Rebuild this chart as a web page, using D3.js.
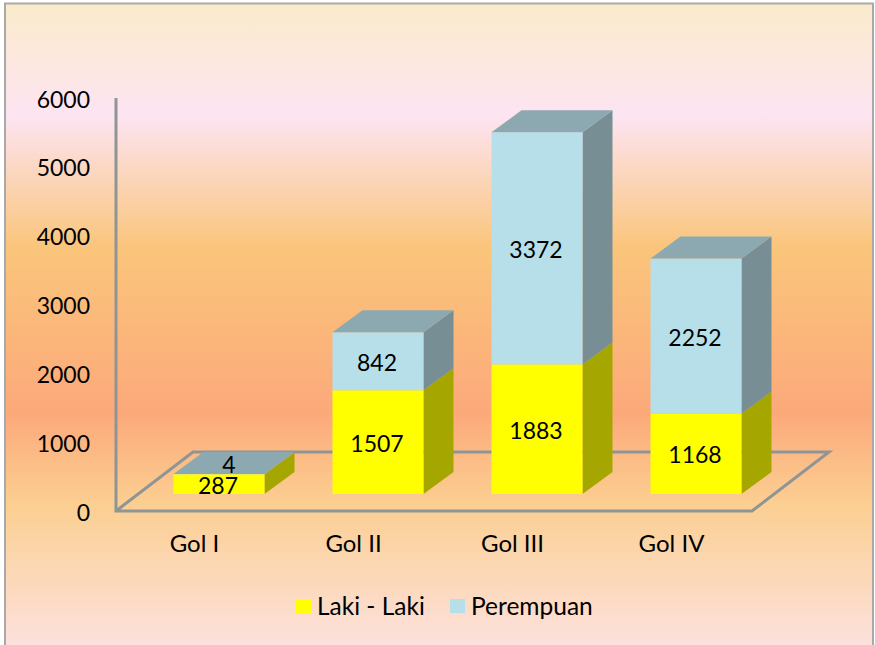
<!DOCTYPE html>
<html>
<head>
<meta charset="utf-8">
<script src="https://cdn.jsdelivr.net/npm/d3@7"></script>
<style>
  html, body { margin: 0; padding: 0; background: #fff; }
  svg { display: block; }
  text { font-family: Lato, "Open Sans", sans-serif; fill: #000; }
</style>
</head>
<body>
<svg id="chart" width="875" height="645"></svg>
<script>
const categories = ["Gol I", "Gol II", "Gol III", "Gol IV"]
const lakiLaki = [287, 1507, 1883, 1168]
const perempuan = [4, 842, 3372, 2252]
const yTicks = [0, 1000, 2000, 3000, 4000, 5000, 6000]
const seriesNames = ["Laki - Laki", "Perempuan"]

const w = 875
const h = 645
const svg = d3.select("#chart")

const x = d3.scaleBand().domain(categories).range([116, 752]).paddingInner(0.4277).paddingOuter(0.21385)
const y = d3.scaleLinear().domain([0, 6000]).range([511, 98])

// 3d offsets, floor and the bar box inside it
const floorDx = 77
const floorDy = -59
const barOffX = 23.5
const barOffY = -17
const barDx = 30
const barDy = -22

const colors = {
  laki: { front: "#ffff00", side: "#a6a600", top: "#c4c400" },
  perempuan: { front: "#b7dfe9", side: "#778e95", top: "#8ca9b1" },
}

// background
const defs = svg.append("defs")
const grad = defs.append("linearGradient").attr("id", "bg").attr("x1", 0).attr("x2", 0).attr("y1", 0).attr("y2", 1)
const stops = [
  [0, "#faebcb"],
  [0.17, "#fde4f2"],
  [0.37, "#fac57b"],
  [0.62, "#fca97a"],
  [0.76, "#fbcf92"],
  [1, "#fde3e6"],
]
grad
  .selectAll("stop")
  .data(stops)
  .join("stop")
  .attr("offset", (d) => d[0])
  .attr("stop-color", (d) => d[1])

const blur = defs.append("filter").attr("id", "soft")
blur.append("feGaussianBlur").attr("stdDeviation", 0.5)

svg
  .append("rect")
  .attr("x", 5)
  .attr("y", 3.5)
  .attr("width", 868)
  .attr("height", 660)
  .attr("fill", "url(#bg)")
  .attr("stroke", "#a9a9a9")
  .attr("stroke-width", 2)

// floor and wall lines
const lines = svg.append("g").attr("fill", "none").attr("stroke", "#8f9596").attr("stroke-width", 3).attr("filter", "url(#soft)")
lines
  .append("path")
  .attr(
    "d",
    `M${x.range()[0]},${y(6000)}V${y(0)}H${x.range()[1]}l${floorDx},${floorDy}H${x.range()[0] + floorDx}L${x.range()[0]},${y(0)}`
  )

// y labels
svg
  .append("g")
  .selectAll("text")
  .data(yTicks)
  .join("text")
  .attr("x", 90)
  .attr("y", (d) => y(d) + 1.5)
  .attr("dy", "0.35em")
  .attr("text-anchor", "end")
  .attr("font-size", 23)
  .text((d) => d)

// category labels
svg
  .append("g")
  .selectAll("text")
  .data(categories)
  .join("text")
  .attr("x", (d) => x(d) + x.bandwidth() / 2 - 1)
  .attr("y", 544)
  .attr("dy", "0.35em")
  .attr("text-anchor", "middle")
  .attr("font-size", 24)
  .text((d) => d)

// stack the two series per category
const segments = []
categories.forEach((c, i) => {
  segments.push({ cat: c, start: 0, value: lakiLaki[i], col: colors.laki })
  segments.push({ cat: c, start: lakiLaki[i], value: perempuan[i], col: colors.perempuan })
})

const bars = svg.append("g").attr("filter", "url(#soft)")
const barLabels = svg.append("g")

segments.forEach((s) => {
  const left = x(s.cat) + barOffX
  const right = left + x.bandwidth()
  const bottom = y(s.start) + barOffY
  const top = y(s.start + s.value) + barOffY

  bars
    .append("path")
    .attr("d", `M${right},${bottom}V${top}l${barDx},${barDy}V${bottom + barDy}Z`)
    .attr("fill", s.col.side)
  bars
    .append("rect")
    .attr("x", left)
    .attr("y", top)
    .attr("width", x.bandwidth())
    .attr("height", bottom - top)
    .attr("fill", s.col.front)
  if (s.start > 0) {
    bars
      .append("path")
      .attr("d", `M${left},${top}l${barDx},${barDy}H${right + barDx}l${-barDx},${-barDy}Z`)
      .attr("fill", s.col.top)
  }

  // thin segment: label sits on the top face
  const thin = bottom - top < 12
  barLabels
    .append("text")
    .attr("x", (left + right) / 2 - 1 + (thin ? 11 : 0))
    .attr("y", (bottom + top) / 2 + 1.5 + (thin ? barDy / 2 : 0))
    .attr("dy", "0.35em")
    .attr("text-anchor", "middle")
    .attr("font-size", 23)
    .text(s.value)
})

// legend
const legend = svg.append("g")
const legendX = [296, 450]
seriesNames.forEach((name, i) => {
  legend
    .append("rect")
    .attr("x", legendX[i])
    .attr("y", 599)
    .attr("width", 15)
    .attr("height", 14)
    .attr("fill", i === 0 ? colors.laki.front : colors.perempuan.front)
  legend
    .append("text")
    .attr("x", legendX[i] + 21)
    .attr("y", 606)
    .attr("dy", "0.35em")
    .attr("font-size", 24.5)
    .text(name)
})
</script>
</body>
</html>
